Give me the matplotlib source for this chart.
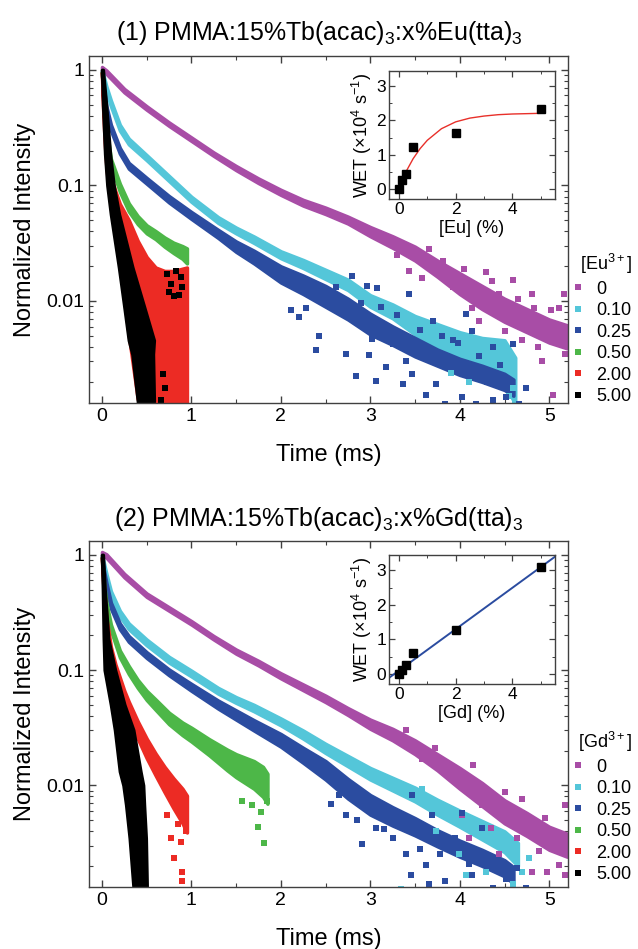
import numpy as np
import matplotlib.pyplot as plt
from matplotlib.ticker import MultipleLocator, FixedLocator, LogLocator, NullFormatter, FuncFormatter
from matplotlib.lines import Line2D

plt.rcParams['font.family'] = ['Liberation Sans', 'DejaVu Sans']
plt.rcParams['mathtext.fontset'] = 'custom'
plt.rcParams['mathtext.rm'] = 'Liberation Sans'
plt.rcParams['mathtext.it'] = 'Liberation Sans:italic'
plt.rcParams['mathtext.default'] = 'regular'

# legend entries / colours
conc_labels = ["0", "0.10", "0.25", "0.50", "2.00", "5.00"]
colors = ['#a84da6', '#54c6d9', '#2b4ca0', '#4db748', '#ec2b24', '#000000']

# ---------------- panel 1 : Eu(tta)3 (log10 of normalized intensity) ----------------
eu0_t = [0, 0.05, 0.25, 0.5, 0.75, 1.0, 1.25, 1.5, 1.75, 2.0, 2.25, 2.5, 2.75, 3.0, 3.25, 3.5, 3.75, 4.0, 4.25, 4.5, 4.75, 5.0, 5.2]
eu0_mid = [0.01, -0.02, -0.18, -0.33, -0.47, -0.60, -0.73, -0.85, -0.96, -1.06, -1.15, -1.22, -1.30, -1.40, -1.49, -1.59, -1.72, -1.85, -1.97, -2.08, -2.17, -2.26, -2.31]
eu0_hw = [0.015, 0.015, 0.015, 0.015, 0.015, 0.015, 0.015, 0.018, 0.02, 0.022, 0.025, 0.028, 0.03, 0.04, 0.05, 0.06, 0.07, 0.09, 0.10, 0.10, 0.10, 0.10, 0.10]
eu0_st_t = [3.43, 3.58, 3.81, 3.92, 4.14, 4.22, 4.29, 4.44, 4.51, 4.59, 4.59, 4.70, 4.74, 4.81, 4.83, 4.92, 4.96, 5.04, 5.07, 5.11, 5.17, 5.18,
            3.30, 3.66, 4.05, 4.36, 4.65, 4.88, 5.02]
eu0_st_lg = [-1.74, -1.80, -1.65, -1.88, -2.06, -2.17, -1.75, -1.94, -2.26, -1.82, -2.06, -2.34, -2.17, -1.94, -2.06, -2.52, -2.17, -2.81, -2.32, -2.06, -1.94, -2.46,
             -1.60, -1.55, -1.72, -1.83, -1.98, -2.40, -2.08]

eu10_t = [0, 0.02, 0.05, 0.1, 0.2, 0.3, 0.5, 0.75, 1.0, 1.3, 1.5, 1.7, 2.0, 2.25, 2.5, 2.75, 3.0, 3.25, 3.5, 3.75, 4.0, 4.25, 4.5, 4.62]
eu10_mid = [-0.02, -0.08, -0.17, -0.29, -0.50, -0.62, -0.76, -0.94, -1.12, -1.30, -1.39, -1.47, -1.60, -1.68, -1.77, -1.86, -2.0, -2.09, -2.21, -2.31, -2.43, -2.50, -2.53, -2.69]
eu10_hw = [0.015, 0.025, 0.025, 0.025, 0.025, 0.025, 0.022, 0.022, 0.022, 0.025, 0.025, 0.028, 0.03, 0.035, 0.04, 0.045, 0.05, 0.06, 0.08, 0.11, 0.16, 0.18, 0.19, 0.2]
eu10_st_t = [3.90, 4.10, 4.55, 4.59, 4.62]
eu10_st_lg = [-2.62, -2.70, -2.82, -2.75, -2.89]

eu25_t = [0, 0.02, 0.05, 0.1, 0.2, 0.3, 0.5, 0.75, 1.0, 1.3, 1.5, 1.7, 2.0, 2.25, 2.5, 2.75, 3.0, 3.25, 3.5, 3.75, 4.0, 4.25, 4.5, 4.6]
eu25_mid = [-0.035, -0.18, -0.34, -0.50, -0.70, -0.83, -0.96, -1.12, -1.26, -1.42, -1.53, -1.62, -1.77, -1.86, -1.96, -2.07, -2.20, -2.30, -2.40, -2.49, -2.57, -2.63, -2.70, -2.75]
eu25_hw = [0.015, 0.025, 0.025, 0.025, 0.025, 0.025, 0.025, 0.028, 0.03, 0.035, 0.045, 0.055, 0.07, 0.08, 0.09, 0.09, 0.09, 0.08, 0.08, 0.07, 0.07, 0.07, 0.07, 0.07]
eu25_st_t = [2.11, 2.20, 2.28, 2.39, 2.43, 2.73, 2.79, 2.84, 2.96, 2.99, 3.06, 3.07, 3.17, 3.25, 3.36, 3.43, 3.47, 3.51, 3.62, 3.70,
             3.73, 3.84, 3.92, 4.03, 4.07, 4.14, 4.18, 4.37, 4.37, 4.52, 4.59, 4.66, 4.74,
             2.62, 2.90, 3.12, 3.30, 3.55, 3.80, 3.98, 4.22, 4.45, 4.30, 3.40, 3.02]
eu25_st_lg = [-2.08, -2.14, -2.06, -2.42, -2.30, -2.46, -1.78, -2.65, -1.87, -2.47, -2.69, -1.89, -2.57, -2.37, -2.72, -1.94, -2.63, -2.46, -2.81, -2.17,
              -2.72, -2.89, -2.34, -2.83, -2.11, -2.26, -2.89, -2.40, -2.86, -2.83, -2.37, -2.89, -2.75,
              -1.88, -2.02, -2.05, -2.12, -2.25, -2.30, -2.36, -2.48, -2.55, -2.70, -2.52, -2.33]

eu50_t = [0, 0.01, 0.03, 0.05, 0.1, 0.2, 0.3, 0.4, 0.5, 0.6, 0.7, 0.8, 0.9, 0.95]
eu50_mid = [-0.03, -0.15, -0.35, -0.52, -0.80, -1.02, -1.19, -1.30, -1.38, -1.43, -1.49, -1.54, -1.58, -1.61]
eu50_hw = [0.015, 0.025, 0.025, 0.025, 0.03, 0.035, 0.035, 0.035, 0.035, 0.035, 0.04, 0.045, 0.055, 0.065]

eu200_t = [0, 0.01, 0.03, 0.05, 0.1, 0.15, 0.2, 0.3, 0.4, 0.5, 0.6, 0.7, 0.8, 0.9, 0.95]
eu200_top = [-0.02, -0.21, -0.50, -0.67, -0.93, -1.05, -1.16, -1.30, -1.48, -1.62, -1.71, -1.74, -1.74, -1.72, -1.71]
eu200_bot = [-0.05, -0.30, -0.62, -0.85, -1.20, -1.45, -1.70, -2.30, -2.85, -3.0, -3.0, -3.0, -3.0, -3.0, -3.0]

eu500_lg = [0.0, -0.3, -0.73, -1.0, -1.25, -1.71, -2.05, -2.34, -2.46, -2.86, -2.95]
eu500_left = [0.0, 0.012, 0.035, 0.06, 0.10, 0.19, 0.25, 0.30, 0.34, 0.40, 0.41]
eu500_right = [0.01, 0.045, 0.09, 0.13, 0.19, 0.34, 0.47, 0.58, 0.57, 0.58, 0.57]
eu500_st_t = [0.73, 0.77, 0.75, 0.83, 0.88, 0.90, 0.86, 0.80, 0.66, 0.70, 0.68, 0.44]
eu500_st_lg = [-1.77, -1.85, -1.92, -1.74, -1.79, -1.88, -1.95, -1.96, -2.86, -2.75, -2.63, -2.83]

# ---------------- panel 2 : Gd(tta)3 ----------------
gd0_t = [0, 0.05, 0.25, 0.5, 0.75, 1.0, 1.25, 1.5, 1.75, 2.0, 2.25, 2.5, 2.75, 3.0, 3.25, 3.5, 3.75, 4.0, 4.25, 4.5, 4.75, 5.0, 5.2]
gd0_mid = [0.01, -0.01, -0.18, -0.35, -0.47, -0.59, -0.72, -0.84, -0.94, -1.05, -1.15, -1.25, -1.36, -1.47, -1.56, -1.67, -1.80, -1.94, -2.08, -2.23, -2.34, -2.46, -2.52]
gd0_hw = [0.015, 0.015, 0.015, 0.015, 0.015, 0.015, 0.015, 0.018, 0.02, 0.022, 0.025, 0.028, 0.03, 0.04, 0.05, 0.06, 0.07, 0.09, 0.10, 0.10, 0.10, 0.10, 0.10]
gd0_st_t = [3.58, 3.88, 4.03, 4.10, 4.25, 4.35, 4.44, 4.51, 4.59, 4.64, 4.77, 4.81, 4.89, 4.98, 5.07, 5.11, 5.18, 5.18,
            3.40, 3.72, 4.15, 4.70, 4.95]
gd0_st_lg = [-1.77, -1.85, -2.26, -2.46, -2.17, -2.37, -2.60, -2.06, -2.32, -2.46, -2.40, -2.75, -2.57, -2.75, -2.55, -2.69, -2.17, -2.78,
             -1.52, -1.68, -1.82, -2.12, -2.28]

gd10_t = [0, 0.02, 0.05, 0.1, 0.2, 0.3, 0.5, 0.75, 1.0, 1.3, 1.5, 1.7, 2.0, 2.25, 2.5, 2.75, 3.0, 3.25, 3.5, 3.75, 4.0, 4.25, 4.5, 4.65]
gd10_mid = [-0.02, -0.09, -0.19, -0.34, -0.51, -0.62, -0.76, -0.91, -1.03, -1.18, -1.26, -1.33, -1.45, -1.56, -1.68, -1.79, -1.90, -1.99, -2.08, -2.19, -2.29, -2.39, -2.49, -2.60]
gd10_hw = [0.015, 0.025, 0.025, 0.025, 0.025, 0.025, 0.025, 0.025, 0.025, 0.025, 0.025, 0.028, 0.03, 0.035, 0.04, 0.045, 0.05, 0.055, 0.06, 0.065, 0.07, 0.08, 0.09, 0.1]
gd10_st_t = [3.34, 3.58, 3.73, 3.99, 4.07, 4.29, 4.59, 4.70, 4.77]
gd10_st_lg = [-2.90, -2.03, -2.40, -2.60, -2.78, -2.75, -2.86, -2.75, -2.63]

gd25_t = [0, 0.02, 0.05, 0.1, 0.2, 0.3, 0.5, 0.75, 1.0, 1.3, 1.5, 1.7, 2.0, 2.25, 2.5, 2.75, 3.0, 3.25, 3.5, 3.75, 4.0, 4.25, 4.5, 4.6]
gd25_mid = [-0.035, -0.15, -0.27, -0.44, -0.62, -0.73, -0.87, -1.02, -1.15, -1.30, -1.39, -1.48, -1.61, -1.74, -1.87, -2.03, -2.17, -2.27, -2.36, -2.46, -2.55, -2.63, -2.72, -2.78]
gd25_hw = [0.015, 0.025, 0.025, 0.025, 0.025, 0.025, 0.025, 0.025, 0.03, 0.035, 0.04, 0.045, 0.055, 0.065, 0.08, 0.085, 0.085, 0.08, 0.075, 0.07, 0.07, 0.07, 0.07, 0.07]
gd25_st_t = [2.56, 2.73, 2.91, 3.06, 3.25, 3.40, 3.45, 3.47, 3.62, 3.66, 3.69, 3.84, 3.95, 4.03, 4.14, 4.25, 4.37, 4.52, 4.64, 4.74,
             2.65, 2.85, 3.15, 3.55, 3.78, 4.10]
gd25_st_lg = [-2.16, -2.26, -2.51, -2.37, -2.46, -2.60, -2.78, -2.08, -2.69, -2.86, -2.26, -2.83, -2.46, -2.24, -2.78, -2.37, -2.89, -2.81, -2.72, -2.89,
              -2.08, -2.30, -2.38, -2.55, -2.60, -2.68]

gd50_t = [0, 0.01, 0.03, 0.05, 0.1, 0.2, 0.3, 0.4, 0.5, 0.6, 0.75, 0.9, 1.0, 1.2, 1.4, 1.5, 1.6, 1.7, 1.8, 1.85]
gd50_mid = [-0.035, -0.15, -0.32, -0.44, -0.63, -0.86, -1.0, -1.12, -1.22, -1.30, -1.42, -1.51, -1.56, -1.67, -1.78, -1.83, -1.87, -1.91, -1.97, -2.03]
gd50_hw = [0.015, 0.025, 0.025, 0.025, 0.025, 0.03, 0.035, 0.035, 0.04, 0.045, 0.05, 0.055, 0.06, 0.07, 0.09, 0.10, 0.11, 0.12, 0.13, 0.13]
gd50_st_t = [1.57, 1.68, 1.74, 1.78, 1.81, 1.85]
gd50_st_lg = [-2.14, -2.17, -2.36, -2.23, -2.50, -2.14]

gd200_t = [0, 0.01, 0.02, 0.05, 0.1, 0.15, 0.2, 0.25, 0.3, 0.4, 0.5, 0.6, 0.7, 0.8, 0.9, 0.95]
gd200_mid = [-0.035, -0.18, -0.29, -0.60, -0.85, -1.0, -1.12, -1.24, -1.34, -1.52, -1.68, -1.82, -1.95, -2.07, -2.18, -2.25]
gd200_hw = [0.015, 0.03, 0.04, 0.05, 0.05, 0.05, 0.055, 0.06, 0.065, 0.075, 0.085, 0.095, 0.11, 0.13, 0.15, 0.16]
gd200_st_t = [0.73, 0.77, 0.81, 0.85, 0.88, 0.89, 0.90, 0.94]
gd200_st_lg = [-2.26, -2.46, -2.63, -2.34, -2.49, -2.83, -2.75, -2.40]

gd500_lg = [0.0, -0.3, -0.73, -1.0, -1.3, -1.52, -1.88, -2.0, -2.17, -2.46, -2.86, -2.95]
gd500_left = [0.0, 0.01, 0.02, 0.03, 0.10, 0.145, 0.20, 0.24, 0.27, 0.31, 0.35, 0.36]
gd500_right = [0.01, 0.03, 0.07, 0.146, 0.25, 0.35, 0.43, 0.46, 0.47, 0.49, 0.50, 0.50]

# ---------------- insets : WET vs concentration ----------------
eu_conc = [0, 0.1, 0.25, 0.5, 2, 5]
eu_wet = [0, 0.26, 0.43, 1.23, 1.62, 2.35]
eu_fit_x = [0, 0.1, 0.25, 0.5, 0.75, 1, 1.5, 2, 2.5, 3, 3.5, 4, 4.5, 5]
eu_fit_y = [0.05, 0.22, 0.5, 0.88, 1.18, 1.42, 1.76, 1.96, 2.07, 2.13, 2.17, 2.19, 2.2, 2.21]

gd_conc = [0, 0.1, 0.25, 0.5, 2, 5]
gd_wet = [0, 0.12, 0.24, 0.59, 1.28, 3.11]
gd_fit_x = [-0.6, 5.6]
gd_fit_y = [-0.27, 3.46]

EDGE = 2.5


def band(ax, t, mid, hw, c):
    mid = np.array(mid)
    hw = np.array(hw)
    ax.fill_between(t, 10**(mid - hw), 10**(mid + hw), color=c, lw=EDGE, zorder=2)


def cloud(ax, t, top, bot, c):
    ax.fill_between(t, 10**np.array(bot), 10**np.array(top), color=c, lw=EDGE, zorder=2)


def cloudx(ax, lg, left, right, c):
    ax.fill_betweenx(10**np.array(lg), left, right, color=c, lw=EDGE, zorder=2)


def strays(ax, t, lg, c):
    ax.plot(t, 10**np.array(lg), ls='none', marker='s', ms=4.3, mew=0, color=c, zorder=2.5)


def style_main(ax):
    ax.set_yscale('log')
    ax.set_xlim(-0.145, 5.21)
    ax.set_ylim(10**-2.883, 10**0.12)
    ax.xaxis.set_major_locator(MultipleLocator(1))
    ax.xaxis.set_minor_locator(MultipleLocator(0.5))
    ax.yaxis.set_major_locator(FixedLocator([0.01, 0.1, 1]))
    ax.yaxis.set_major_formatter(FuncFormatter(lambda v, p: f'{v:g}'))
    ax.yaxis.set_minor_locator(LogLocator(base=10, subs=np.arange(2, 10), numticks=30))
    ax.yaxis.set_minor_formatter(NullFormatter())
    ax.tick_params(which='both', direction='in', top=True, right=True, labelsize=14, color='#404040')
    ax.tick_params(which='major', length=5, width=1)
    ax.tick_params(which='minor', length=3, width=0.8)
    for s in ax.spines.values():
        s.set_color('#404040')
        s.set_linewidth(1.0)
    ax.set_xlabel('Time (ms)', fontsize=17, labelpad=14)
    ax.set_ylabel('Normalized Intensity', fontsize=17, labelpad=7)


def style_inset(ax, xlabel):
    ax.set_xlim(-0.35, 5.5)
    ax.set_ylim(-0.3, 3.45)
    ax.xaxis.set_major_locator(MultipleLocator(2))
    ax.xaxis.set_minor_locator(MultipleLocator(1))
    ax.yaxis.set_major_locator(MultipleLocator(1))
    ax.yaxis.set_minor_locator(MultipleLocator(0.5))
    ax.tick_params(which='both', direction='in', top=True, right=True, labelsize=12.5, color='#404040', pad=2)
    ax.tick_params(which='major', length=4, width=0.9)
    ax.tick_params(which='minor', length=2.5, width=0.7)
    for s in ax.spines.values():
        s.set_color('#404040')
        s.set_linewidth(1.0)
    ax.set_xlabel(xlabel, fontsize=13, labelpad=2)
    ax.set_ylabel('WET (×10$^4$ s$^{-1}$)', fontsize=13, labelpad=2)


fig = plt.figure(figsize=(6.38, 9.49), dpi=100)

# ---- panel 1 ----
ax1 = fig.add_axes([0.1395, 0.5753, 0.7508, 0.3657])
band(ax1, eu0_t, eu0_mid, eu0_hw, colors[0])
strays(ax1, eu0_st_t, eu0_st_lg, colors[0])
band(ax1, eu10_t, eu10_mid, eu10_hw, colors[1])
strays(ax1, eu10_st_t, eu10_st_lg, colors[1])
band(ax1, eu25_t, eu25_mid, eu25_hw, colors[2])
strays(ax1, eu25_st_t, eu25_st_lg, colors[2])
band(ax1, eu50_t, eu50_mid, eu50_hw, colors[3])
cloud(ax1, eu200_t, eu200_top, eu200_bot, colors[4])
cloudx(ax1, eu500_lg, eu500_left, eu500_right, colors[5])
strays(ax1, eu500_st_t, eu500_st_lg, colors[5])
style_main(ax1)

# ---- panel 2 ----
ax2 = fig.add_axes([0.1395, 0.0653, 0.7508, 0.3646])
band(ax2, gd0_t, gd0_mid, gd0_hw, colors[0])
strays(ax2, gd0_st_t, gd0_st_lg, colors[0])
band(ax2, gd10_t, gd10_mid, gd10_hw, colors[1])
strays(ax2, gd10_st_t, gd10_st_lg, colors[1])
band(ax2, gd25_t, gd25_mid, gd25_hw, colors[2])
strays(ax2, gd25_st_t, gd25_st_lg, colors[2])
band(ax2, gd50_t, gd50_mid, gd50_hw, colors[3])
strays(ax2, gd50_st_t, gd50_st_lg, colors[3])
band(ax2, gd200_t, gd200_mid, gd200_hw, colors[4])
strays(ax2, gd200_st_t, gd200_st_lg, colors[4])
cloudx(ax2, gd500_lg, gd500_left, gd500_right, colors[5])
style_main(ax2)

# legends
for ax, title, top in [(ax1, '[Eu$^{3+}$]', 252), (ax2, '[Gd$^{3+}$]', 730)]:
    handles = [Line2D([], [], ls='none', marker='s', ms=4, mew=0, color=c) for c in colors]
    leg = ax.legend(handles, conc_labels, title=title, loc='upper left',
                    bbox_to_anchor=(573 / 638, 1 - top / 949), bbox_transform=fig.transFigure,
                    frameon=False, fontsize=13, title_fontsize=13, handlelength=0.6,
                    handletextpad=0.7, labelspacing=0.25, borderpad=0, borderaxespad=0)
    leg._legend_box.align = 'right'

# insets
in1 = fig.add_axes([0.6097, 0.7903, 0.2602, 0.1349])
in1.plot(eu_fit_x, eu_fit_y, color='#e8302a', lw=1.0, zorder=2)
in1.plot(eu_conc, eu_wet, ls='none', marker='s', ms=6, color='black', zorder=3)
style_inset(in1, '[Eu] (%)')

in2 = fig.add_axes([0.6097, 0.2792, 0.2602, 0.136])
in2.plot(gd_fit_x, gd_fit_y, color='#2b4ca0', lw=1.4, zorder=2)
in2.plot(gd_conc, gd_wet, ls='none', marker='s', ms=6, color='black', zorder=3)
style_inset(in2, '[Gd] (%)')

# titles
fig.text(0.5, 1 - 33 / 949, '(1) PMMA:15%Tb(acac)$_3$:x%Eu(tta)$_3$', ha='center', va='center', fontsize=18)
fig.text(0.5, 1 - 519 / 949, '(2) PMMA:15%Tb(acac)$_3$:x%Gd(tta)$_3$', ha='center', va='center', fontsize=18)

fig.savefig('out.png', dpi=100)
